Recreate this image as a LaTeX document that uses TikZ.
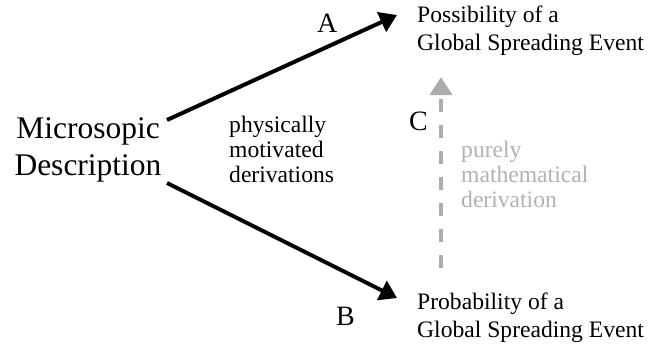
\documentclass[tikz,border=0pt]{standalone}
\usepackage{fontspec}
\setmainfont{Liberation Serif}
\usetikzlibrary{arrows.meta}
\definecolor{lgray}{RGB}{172,172,172}
\definecolor{tgray}{RGB}{178,178,178}
\tikzset{
  big/.style={font=\fontsize{31.5}{37}\selectfont, inner sep=0pt, anchor=base},
  lbl/.style={font=\fontsize{28}{33}\selectfont, inner sep=0pt, anchor=base west},
  txt/.style={font=\fontsize{23.6}{28}\selectfont, inner sep=0pt, anchor=base west},
  txtb/.style={font=\fontsize{23.6}{25.3}\selectfont, inner sep=0pt, anchor=base west},
  blackarrow/.style={line width=4pt, -{Triangle[length=17pt,width=21pt]}},
  grayarrow/.style={line width=4pt, lgray, dash pattern=on 13pt off 13pt, -{Triangle[length=18pt,width=22pt]}}
}
\begin{document}
\begin{tikzpicture}[x=1pt,y=-1pt]
\useasboundingbox (0,0) rectangle (668,343);
\node[big] (micro) at (88,138) {\begin{tabular}[t]{@{}c@{}}Microsopic\\Description\end{tabular}};
\node[txtb] (phys) at (229,132) {\begin{tabular}[t]{@{}l@{}}physically\\motivated\\derivations\end{tabular}};
\node[txt] (poss) at (417,22) {\begin{tabular}[t]{@{}l@{}}Possibility of a\\Global Spreading Event\end{tabular}};
\node[txt] (prob) at (417,309) {\begin{tabular}[t]{@{}l@{}}Probability of a\\Global Spreading Event\end{tabular}};
\node[txtb, text=tgray] (math) at (461,157) {\begin{tabular}[t]{@{}l@{}}purely\\mathematical\\derivation\end{tabular}};
\node[lbl] (A) at (317,32) {A};
\node[lbl] (B) at (336,325) {B};
\node[lbl] (C) at (409,130) {C};
\coordinate (aS) at (167,120);
\coordinate (aE) at (397,15);
\coordinate (bS) at (167,183);
\coordinate (bE) at (397,298);
\coordinate (cS) at (441,268);
\coordinate (cE) at (441,77);
\draw[blackarrow] (aS) -- (aE);
\draw[blackarrow] (bS) -- (bE);
\draw[grayarrow] (cS) -- (cE);
\end{tikzpicture}
\end{document}
